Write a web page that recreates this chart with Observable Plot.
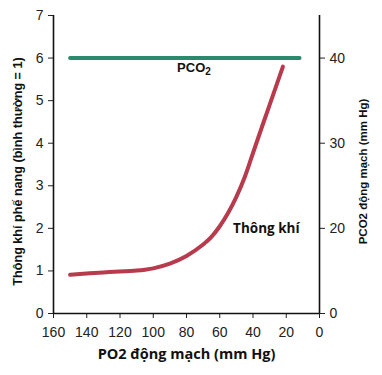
<!DOCTYPE html>
<html><head><meta charset="utf-8">
<script src="https://cdn.jsdelivr.net/npm/d3@7"></script>
<script src="https://cdn.jsdelivr.net/npm/@observablehq/plot@0.6"></script>
<style>body{margin:0;background:#fff} #chart{width:382px;height:375px}</style>
</head><body><div id="chart"></div>
<script>
// Data
const po2 = [150, 130, 110, 105, 100, 90, 80, 70, 65, 60, 55, 50, 45, 40, 35, 30, 22];
const ventilation = [0.91, 0.965, 1.01, 1.03, 1.06, 1.17, 1.35, 1.62, 1.8, 2.05, 2.36, 2.74, 3.2, 3.77, 4.34, 4.9, 5.8];
const pco2Po2 = [150, 12];
const pco2Values = [40, 40];
const xTicks = [160, 140, 120, 100, 80, 60, 40, 20, 0];
const yTicks = [0, 1, 2, 3, 4, 5, 6, 7];
const pco2Ticks = [0, 20, 30, 40];

// Right axis is broken: 0, then 20–40 mm Hg evenly (20→2, 30→4, 40→6 on the left scale)
const pco2ToLeft = v => v >= 20 ? 2 + (v - 20) / 5 : v / 10;
const leftToPco2 = y => y >= 2 ? 20 + (y - 2) * 5 : y * 10;

const ventData = po2.map((p, i) => ({po2: p, v: ventilation[i]}));
const pco2Data = pco2Po2.map((p, i) => ({po2: p, pco2: pco2Values[i]}));

const chart = Plot.plot({
  width: 382, height: 375,
  marginLeft: 53, marginRight: 63, marginTop: 15, marginBottom: 62,
  style: {fontFamily: "'Liberation Sans', Arial, sans-serif", fontSize: "14px", color: "#222", background: "#fff"},
  x: {domain: [160, 0]},
  y: {domain: [0, 7]},
  marks: [
    Plot.axisX({ticks: xTicks, tickSize: 5, tickPadding: 9, tickFormat: d => d, label: null, fontSize: 14}),
    Plot.axisY({anchor: "left", ticks: yTicks, tickSize: 5, tickPadding: 5, tickFormat: d => d, label: null, fontSize: 14}),
    Plot.axisY({anchor: "right", ticks: pco2Ticks.map(pco2ToLeft), tickFormat: d => Math.round(leftToPco2(d)), tickSize: 5, tickPadding: 5, label: null, fontSize: 14}),
    Plot.ruleY([0], {x1: 160, x2: 0, stroke: "#111", strokeWidth: 1.6}),
    Plot.ruleX([160, 0], {y1: 0, y2: 7, stroke: "#111", strokeWidth: 1.6}),
    Plot.line(pco2Data, {x: "po2", y: d => pco2ToLeft(d.pco2), stroke: "#2b8a6b", strokeWidth: 4}),
    Plot.line(ventData, {x: "po2", y: "v", stroke: "#b73a4d", strokeWidth: 4, curve: "catmull-rom"}),
    Plot.text(["PCO2"], {x: 75.5, y: 5.78, fontWeight: "bold", fontSize: 13, fill: "#111", fontFamily: "'Liberation Sans', Arial, sans-serif", className: "pco2-label"}),
    Plot.text(["Thông khí"], {x: 32, y: 2.0, fontWeight: "bold", fontSize: 13.5, fill: "#111", fontFamily: "'Open Sans', sans-serif"}),
    Plot.text(["Thông khí phế nang (bình thường = 1)"], {frameAnchor: "left", textAnchor: "middle", dx: -36, dy: 7, rotate: -90, fontWeight: "bold", fontSize: 12.6, fill: "#111", fontFamily: "'Liberation Sans', Arial, sans-serif"}),
    Plot.text(["PCO2 động mạch (mm Hg)"], {frameAnchor: "right", textAnchor: "middle", dx: 44, dy: 7, rotate: -90, fontWeight: "bold", fontSize: 11.5, fill: "#111", fontFamily: "'Liberation Sans', Arial, sans-serif"}),
    Plot.text(["PO2 động mạch (mm Hg)"], {frameAnchor: "bottom", dy: 45, dx: 0, fontWeight: "bold", fontSize: 14.5, fill: "#111", fontFamily: "'Open Sans', sans-serif"})
  ]
});
// Render the "2" of PCO2 as a subscript
d3.select(chart).selectAll(".pco2-label text").each(function() {
  const t = d3.select(this);
  t.text("PCO");
  t.append("tspan").attr("dy", "0.35em").attr("font-size", "10").text("2");
});
document.getElementById("chart").append(chart);
</script>
</body></html>
